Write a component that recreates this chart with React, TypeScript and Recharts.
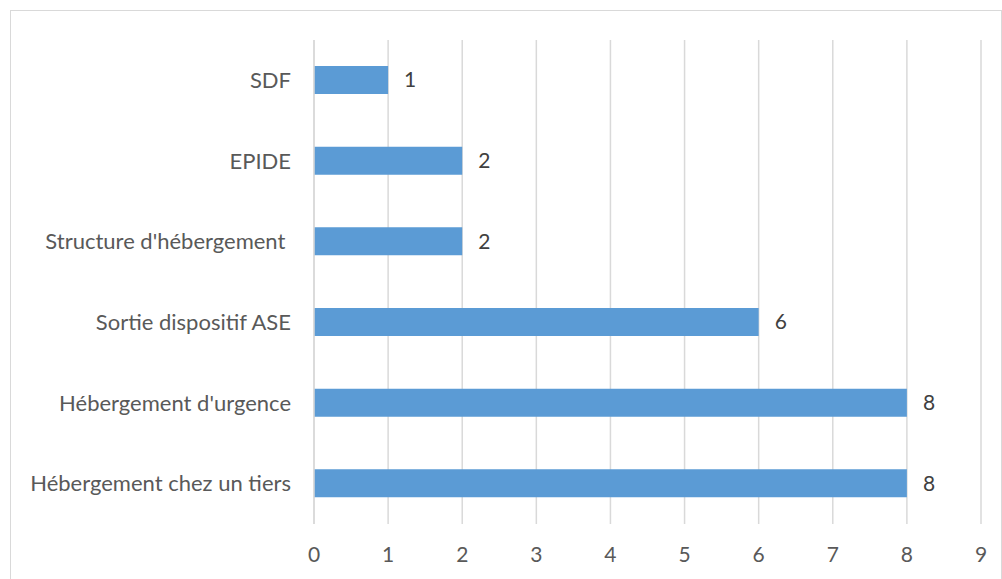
import { BarChart, Bar, XAxis, YAxis, CartesianGrid, LabelList } from 'recharts';

const categories = [
  'SDF',
  'EPIDE',
  'Structure d\'hébergement\u00A0',
  'Sortie dispositif ASE',
  'Hébergement d\'urgence',
  'Hébergement chez un tiers',
];
const counts = [1, 2, 2, 6, 8, 8];
const xTicks = [0, 1, 2, 3, 4, 5, 6, 7, 8, 9];

const data = categories.map((name, i) => ({ name, value: counts[i] }));

const font = 'Lato, "Open Sans", sans-serif';

const App = () => (
  <div
    style={{
      position: 'absolute',
      left: 10,
      top: 10,
      width: 990,
      height: 580,
      border: '1px solid #d9d9d9',
      background: '#fff',
      fontFamily: font,
    }}
  >
    <BarChart
      width={990}
      height={570}
      data={data}
      layout="vertical"
      margin={{ top: 29, right: 20, left: 0, bottom: 17 }}
    >
      <CartesianGrid horizontal={false} stroke="#d9d9d9" strokeWidth={1.5} />
      <XAxis
        type="number"
        domain={[0, 9]}
        ticks={xTicks}
        axisLine={false}
        tickLine={false}
        tickMargin={17}
        height={40}
        tick={{ fill: '#595959', fontSize: 21, fontFamily: font }}
      />
      <YAxis
        type="category"
        dataKey="name"
        width={303}
        axisLine={{ stroke: '#d9d9d9', strokeWidth: 1.5 }}
        tickLine={false}
        tickMargin={17}
        interval={0}
        tick={{ fill: '#595959', fontSize: 22, fontFamily: font }}
      />
      <Bar dataKey="value" fill="#5b9bd5" barSize={28} isAnimationActive={false}>
        <LabelList
          dataKey="value"
          position="right"
          offset={16}
          fill="#404040"
          fontSize={21}
          fontFamily={font}
        />
      </Bar>
    </BarChart>
  </div>
);

export default App;
